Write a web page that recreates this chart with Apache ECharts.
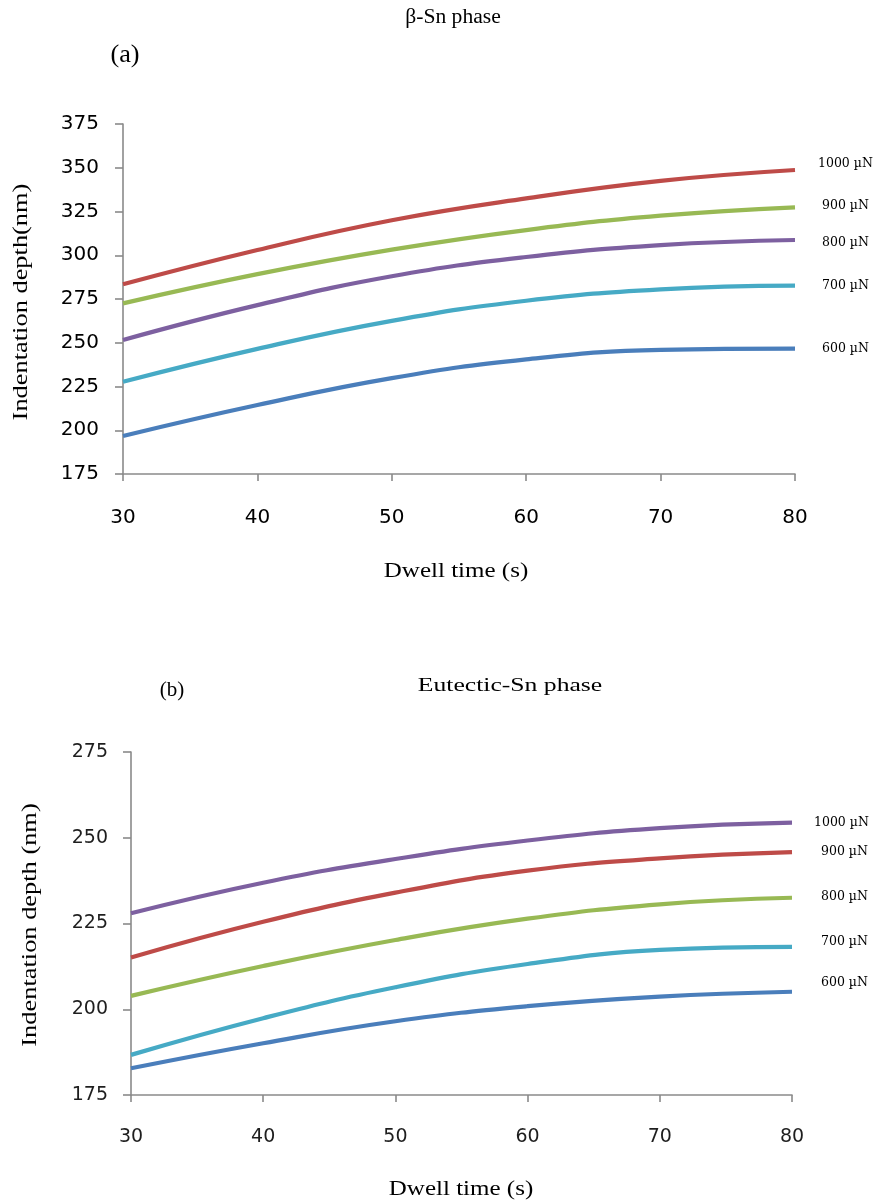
<!DOCTYPE html>
<html><head><meta charset="utf-8">
<script src="https://cdn.jsdelivr.net/npm/echarts@6/dist/echarts.min.js"></script>
<style>html,body{margin:0;padding:0;background:#fff}#c{width:880px;height:1204px}</style>
</head><body><div id="c"></div>
<script>
// ---- data ----
const dwellTime = [30, 40, 50, 60, 70, 80];
const loadNames = ['1000 µN', '900 µN', '800 µN', '700 µN', '600 µN'];
// (a) beta-Sn phase
const betaSn1000 = [283.4, 303.0, 320.0, 332.5, 342.5, 348.7];
const betaSn900  = [272.5, 289.2, 303.2, 314.4, 322.6, 327.4];
const betaSn800  = [251.6, 271.5, 288.0, 299.0, 305.8, 308.7];
const betaSn700  = [227.7, 246.5, 262.5, 274.0, 280.5, 282.6];
const betaSn600  = [196.7, 214.4, 229.8, 240.5, 245.9, 246.6];
// (b) Eutectic-Sn phase
const eutSn1000 = [228.0, 236.9, 243.8, 249.2, 252.8, 254.4];
const eutSn900  = [215.1, 225.5, 234.0, 240.4, 244.0, 245.8];
const eutSn800  = [203.9, 212.6, 220.2, 226.4, 230.6, 232.5];
const eutSn700  = [186.7, 197.4, 206.4, 213.2, 217.3, 218.2];
const eutSn600  = [182.8, 190.1, 196.5, 200.9, 203.7, 205.1];

// ---- styles ----
const C = {blue:'#4a7ebb', red:'#be4b48', green:'#98b954', purple:'#7d60a0', cyan:'#46aac5'};
const serif = '"Liberation Serif", "Times New Roman", serif';
const sans = '"DejaVu Sans", sans-serif';

function pairs(arr){ return dwellTime.map((t,i)=>[t, arr[i]]); }
function mk(name, arr, color, idx, dist, dy){
  return {
    type:'line', name, data: pairs(arr), xAxisIndex: idx, yAxisIndex: idx,
    smooth: 0.45, showSymbol:false, symbol:'none', silent:true,
    lineStyle:{color, width:4.2}, itemStyle:{color},
    endLabel:{show:true, formatter:'{a}', distance:dist, offset:[0,dy],
      fontFamily:'"DejaVu Serif", serif', fontSize:12.5, color:'#000'}
  };
}
function xAxis(idx){
  return {type:'value', gridIndex:idx, min:30, max:80, interval:10,
    axisLine:{show:true, lineStyle:{color:'#8a8a8a', width:1.6}},
    axisTick:{show:true, inside:false, length:7, lineStyle:{color:'#8a8a8a', width:1.6}},
    axisLabel:{margin: idx===0?34:33, fontFamily:sans, fontSize: idx===0?20:19, color: idx===0?'#000':'#1e1e1e'},
    splitLine:{show:false}};
}
function yAxis(idx, max){
  return {type:'value', gridIndex:idx, min:175, max:max, interval:25,
    axisLine:{show:true, lineStyle:{color:'#8a8a8a', width:1.6}},
    axisTick:{show:true, inside:false, length:8, lineStyle:{color:'#8a8a8a', width:1.6}},
    axisLabel:{margin: idx===0?24:23, fontFamily:sans, fontSize: idx===0?20:19, color: idx===0?'#000':'#1e1e1e'},
    splitLine:{show:false}};
}
function txt(text, x, y, size, sx, rot){
  return {type:'text', x, y, rotation: rot||0, scaleX: sx||1, silent:true,
    style:{text, font: size+'px '+serif, fill:'#000', align:'center', verticalAlign:'middle'}};
}

const option = {
  animation:false,
  backgroundColor:'#fff',
  grid:[
    {left:123, top:124, width:672, height:350},
    {left:131, top:752, width:661, height:343}
  ],
  xAxis:[xAxis(0), xAxis(1)],
  yAxis:[yAxis(0,375), yAxis(1,275)],
  series:[
    mk(loadNames[0], betaSn1000, C.red,    0, 23, -6),
    mk(loadNames[1], betaSn900,  C.green,  0, 27, -2),
    mk(loadNames[2], betaSn800,  C.purple, 0, 27, 3),
    mk(loadNames[3], betaSn700,  C.cyan,   0, 27, 0),
    mk(loadNames[4], betaSn600,  C.blue,   0, 27, 0),
    mk(loadNames[0], eutSn1000, C.purple, 1, 22, 0),
    mk(loadNames[1], eutSn900,  C.red,    1, 29, 0),
    mk(loadNames[2], eutSn800,  C.green,  1, 29, -1),
    mk(loadNames[3], eutSn700,  C.cyan,   1, 29, -5),
    mk(loadNames[4], eutSn600,  C.blue,   1, 29, -9)
  ],
  graphic:[
    txt('β-Sn phase', 453, 18, 20, 1.08),
    txt('(a)', 125, 55, 25, 1.05),
    txt('Dwell time (s)', 456, 572, 20, 1.25),
    txt('Indentation depth(nm)', 22, 302, 20, 1.32, Math.PI/2),
    txt('(b)', 172, 690, 21, 1.0),
    txt('Eutectic-Sn phase', 510, 686, 19, 1.35),
    txt('Dwell time (s)', 461, 1190, 20, 1.25),
    txt('Indentation depth (nm)', 31, 925, 20, 1.32, Math.PI/2)
  ]
};
const chart = echarts.init(document.getElementById('c'), null, {renderer:'canvas'});
chart.setOption(option);
</script>
</body></html>
